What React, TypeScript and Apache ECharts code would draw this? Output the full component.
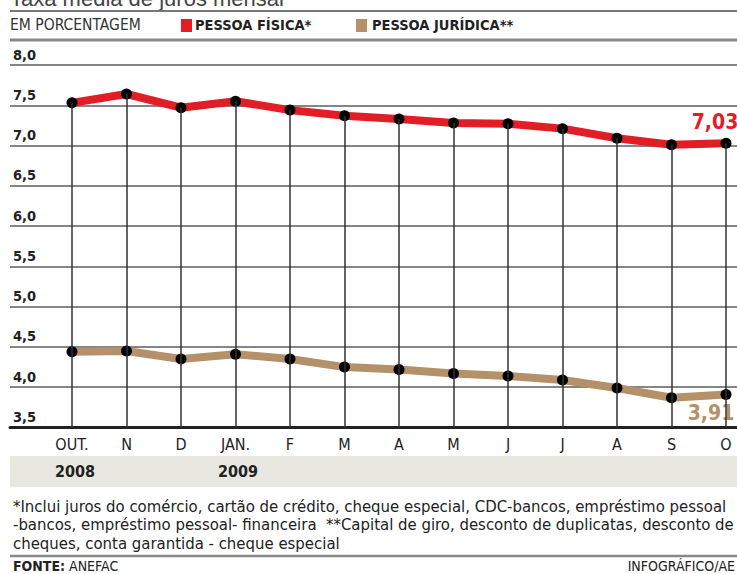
import React, { useEffect, useRef } from "react";
import * as echarts from "echarts";

const categories = ["OUT.", "N", "D", "JAN.", "F", "M", "A", "M", "J", "J", "A", "S", "O"];
const pessoaFisica = [7.53, 7.64, 7.47, 7.55, 7.44, 7.37, 7.33, 7.28, 7.27, 7.21, 7.09, 7.01, 7.03];
const pessoaJuridica = [4.44, 4.45, 4.35, 4.41, 4.35, 4.25, 4.22, 4.17, 4.14, 4.09, 3.99, 3.87, 3.91];
const yMin = 3.5;
const yMax = 8;
const yInterval = 0.5;
const yearLabels = ["2008", "2009"];
const seriesNames = ["PESSOA FÍSICA*", "PESSOA JURÍDICA**"];
const titleText = "Taxa média de juros mensal";
const unitText = "EM PORCENTAGEM";
const footnoteLines = [
  "*Inclui juros do comércio, cartão de crédito, cheque especial, CDC-bancos, empréstimo pessoal",
  "-bancos, empréstimo pessoal- financeira  **Capital de giro, desconto de duplicatas, desconto de",
  "cheques, conta garantida - cheque especial",
];
const sourceLabel = "FONTE:";
const sourceName = " ANEFAC";
const creditText = "INFOGRÁFICO/AE";

const RED = "#e21d26";
const BROWN = "#b5916a";
const NARROW = '"Liberation Sans Narrow", "DejaVu Sans Condensed", "Roboto Condensed", "Arial Narrow", sans-serif';

const fmt = (v: number, d: number) => v.toFixed(d).replace(".", ",");

export default function App() {
  const ref = useRef<HTMLDivElement>(null);
  useEffect(() => {
    document.body.style.margin = "0";
    if (!ref.current) return;
    const chart = echarts.init(ref.current, null, { renderer: "svg" });
    const last = pessoaFisica.length - 1;
    const redData = pessoaFisica.map((v, i) =>
      i === last
        ? {
            value: v,
            label: {
              show: true,
              position: "top",
              distance: 5,
              offset: [-11, 0],
              formatter: () => fmt(v, 2),
              color: RED,
              fontWeight: "bold",
              fontSize: 21,
              fontFamily: NARROW,
            },
          }
        : v
    );
    const brownData = pessoaJuridica.map((v, i) =>
      i === last
        ? {
            value: v,
            label: {
              show: true,
              position: "bottom",
              distance: 3,
              offset: [-15, 0],
              formatter: () => fmt(v, 2),
              color: BROWN,
              fontWeight: "bold",
              fontSize: 21,
              fontFamily: NARROW,
            },
          }
        : v
    );

    chart.setOption({
      animation: false,
      backgroundColor: "#fff",
      grid: [
        { left: 10, right: 0, top: 65, bottom: 146.5 },
        { left: 72, right: 11, top: 65, bottom: 146.5 },
      ],
      xAxis: [
        {
          type: "value",
          gridIndex: 0,
          min: 0,
          max: 1,
          axisLine: { show: true, lineStyle: { color: "#222", width: 3 } },
          axisTick: { show: false },
          axisLabel: { show: false },
          splitLine: { show: false },
        },
        {
          type: "category",
          gridIndex: 1,
          data: categories,
          boundaryGap: false,
          axisLine: { show: false },
          axisTick: { show: false },
          splitLine: { show: false },
          axisLabel: {
            interval: 0,
            margin: 9,
            fontSize: 16,
            color: "#222",
            fontFamily: NARROW,
          },
        },
      ],
      yAxis: [
        {
          type: "value",
          gridIndex: 0,
          min: yMin,
          max: yMax,
          interval: yInterval,
          axisLine: { show: false },
          axisTick: { show: false },
          splitLine: { show: true, lineStyle: { color: "#858585", width: 2 } },
          axisLabel: {
            inside: true,
            margin: 3,
            verticalAlign: "bottom",
            padding: [0, 0, 3, 0],
            fontWeight: "bold",
            fontSize: 14.5,
            color: "#222",
            fontFamily: NARROW,
            showMinLabel: true,
            showMaxLabel: true,
            formatter: (v: number) => fmt(v, 1),
          },
        },
        {
          type: "value",
          gridIndex: 1,
          min: yMin,
          max: yMax,
          show: false,
        },
      ],
      series: [
        {
          type: "line",
          xAxisIndex: 1,
          yAxisIndex: 1,
          data: pessoaFisica,
          symbol: "none",
          lineStyle: { opacity: 0, width: 0 },
          silent: true,
          clip: false,
          z: 1,
          markLine: {
            silent: true,
            symbol: ["none", "none"],
            label: { show: false },
            lineStyle: { color: "#333", width: 1.5, type: "solid" },
            data: pessoaFisica.map((v, i) => [
              { coord: [i, yMin] },
              { coord: [i, v] },
            ]),
          },
        },
        {
          name: seriesNames[0],
          type: "line",
          xAxisIndex: 1,
          yAxisIndex: 1,
          data: redData,
          symbol: "circle",
          symbolSize: 11,
          showAllSymbol: true,
          clip: false,
          itemStyle: { color: "#000" },
          lineStyle: { color: RED, width: 8, cap: "round", join: "round" },
          z: 3,
        },
        {
          name: seriesNames[1],
          type: "line",
          xAxisIndex: 1,
          yAxisIndex: 1,
          data: brownData,
          symbol: "circle",
          symbolSize: 11,
          showAllSymbol: true,
          clip: false,
          itemStyle: { color: "#000" },
          lineStyle: { color: BROWN, width: 8, cap: "round", join: "round" },
          z: 3,
        },
      ],
      graphic: [
        {
          type: "text",
          left: 10,
          top: -13,
          style: { text: titleText, font: '22px "Liberation Sans", sans-serif', fill: "#444" },
        },
        { type: "line", shape: { x1: 10, y1: 11, x2: 737, y2: 11 }, style: { stroke: "#777", lineWidth: 2 } },
        {
          type: "text",
          x: 10,
          y: 25,
          style: { text: unitText, font: `15.5px ${NARROW}`, fill: "#333", verticalAlign: "middle" },
        },
        { type: "rect", shape: { x: 181, y: 19, width: 11, height: 13 }, style: { fill: RED } },
        {
          type: "text",
          x: 195,
          y: 25,
          style: { text: seriesNames[0], font: `bold 14.5px ${NARROW}`, fill: "#222", verticalAlign: "middle" },
        },
        { type: "rect", shape: { x: 356, y: 19, width: 11, height: 13 }, style: { fill: BROWN } },
        {
          type: "text",
          x: 372,
          y: 25,
          style: { text: seriesNames[1], font: `bold 14.5px ${NARROW}`, fill: "#222", verticalAlign: "middle" },
        },
        { type: "line", shape: { x1: 10, y1: 40, x2: 737, y2: 40 }, style: { stroke: "#888", lineWidth: 3 } },
        { type: "rect", shape: { x: 10, y: 456, width: 727, height: 31 }, style: { fill: "#e8e8e0" } },
        {
          type: "text",
          x: 55,
          y: 471,
          style: { text: yearLabels[0], font: `bold 16px ${NARROW}`, fill: "#222", verticalAlign: "middle" },
        },
        {
          type: "text",
          x: 218,
          y: 471,
          style: { text: yearLabels[1], font: `bold 16px ${NARROW}`, fill: "#222", verticalAlign: "middle" },
        },
        ...footnoteLines.map((t, i) => ({
          type: "text",
          x: 13,
          y: 506 + i * 18.5,
          style: { text: t, font: `16.6px ${NARROW}`, fill: "#222", verticalAlign: "middle" },
        })),
        { type: "line", shape: { x1: 10, y1: 556, x2: 737, y2: 556 }, style: { stroke: "#888", lineWidth: 2.5 } },
        {
          type: "text",
          x: 13,
          y: 566,
          style: {
            text: `{b|${sourceLabel}}{r|${sourceName}}`,
            verticalAlign: "middle",
            rich: {
              b: { font: `bold 14px ${NARROW}`, fill: "#222" },
              r: { font: `14px ${NARROW}`, fill: "#222" },
            },
          },
        },
        {
          type: "text",
          x: 735,
          y: 566,
          style: { text: creditText, font: `14px ${NARROW}`, fill: "#222", align: "right", verticalAlign: "middle" },
        },
      ],
    });
    return () => chart.dispose();
  }, []);
  return <div ref={ref} style={{ width: 737, height: 574 }} />;
}
